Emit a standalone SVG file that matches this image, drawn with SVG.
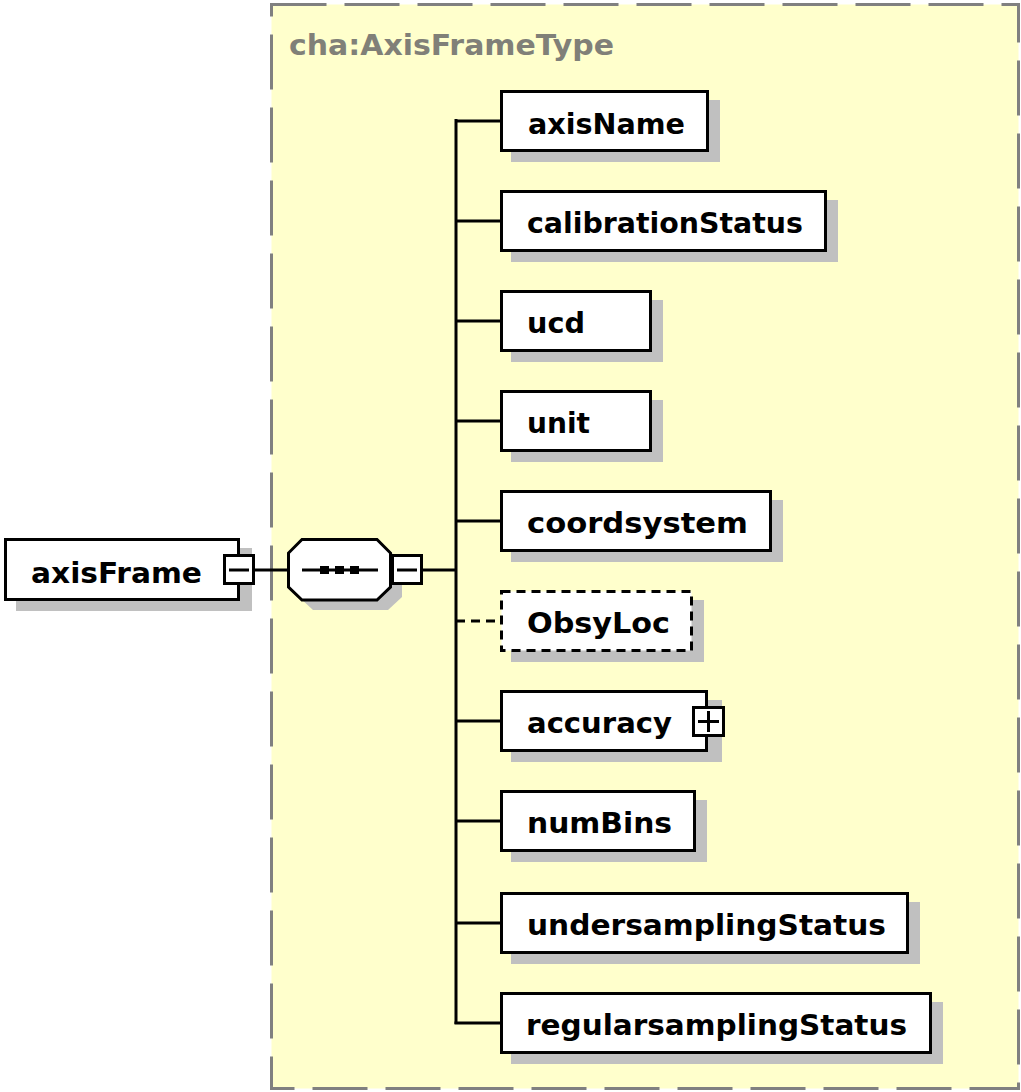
<svg xmlns="http://www.w3.org/2000/svg" width="1021" height="1092" viewBox="0 0 1021 1092">
<style>
.frame{fill:#ffffcc;stroke:#808080;stroke-width:3;stroke-dasharray:55 18}
.box{fill:#ffffff;stroke:#000000;stroke-width:3}
.dbox{fill:#ffffff;stroke:#000000;stroke-width:3;stroke-dasharray:9 6}
.sh{fill:#c0c0c0}
.lbl{font-family:"DejaVu Sans","Liberation Sans",sans-serif;font-weight:bold;font-size:29px;fill:#000000}
.ttl{font-family:"DejaVu Sans","Liberation Sans",sans-serif;font-weight:bold;font-size:29px;fill:#808078}
.ln{stroke:#000000;stroke-width:3;fill:none}
.dln{stroke:#000000;stroke-width:3;fill:none;stroke-dasharray:9 6}
</style>
<rect x="0" y="0" width="1021" height="1092" fill="#ffffff"/>
<g id="type-frame">
<rect class="frame" x="271.5" y="4.5" width="747" height="1084"/>
<text class="ttl" x="289" y="55" textLength="325" lengthAdjust="spacingAndGlyphs">cha:AxisFrameType</text>
</g>
<g id="connectors">
<line class="ln" x1="255" y1="570" x2="288" y2="570"/>
<line class="ln" x1="423" y1="570" x2="456" y2="570"/>
<line class="ln" x1="456" y1="119" x2="456" y2="1024"/>
<line class="ln" x1="456" y1="121" x2="500" y2="121"/>
<line class="ln" x1="456" y1="221" x2="500" y2="221"/>
<line class="ln" x1="456" y1="321" x2="500" y2="321"/>
<line class="ln" x1="456" y1="421" x2="500" y2="421"/>
<line class="ln" x1="456" y1="521" x2="500" y2="521"/>
<line class="dln" x1="456" y1="621" x2="500" y2="621"/>
<line class="ln" x1="456" y1="721" x2="500" y2="721"/>
<line class="ln" x1="456" y1="821" x2="500" y2="821"/>
<line class="ln" x1="456" y1="923" x2="500" y2="923"/>
<line class="ln" x1="454.5" y1="1023" x2="500" y2="1023"/>
</g>
<g id="axisFrame">
<rect class="sh" x="16" y="548" width="236" height="63"/>
<rect class="box" x="5.5" y="539.5" width="233" height="60"/>
<text class="lbl" x="31" y="583" textLength="171" lengthAdjust="spacingAndGlyphs">axisFrame</text>
<rect class="box" x="224.5" y="555.5" width="29" height="28"/>
<line class="ln" x1="229" y1="570" x2="249" y2="570"/>
</g>
<g id="sequence">
<polygon class="sh" points="313,549 388,549 402,563 402,597 388,610 313,610 299,597 299,563"/>
<polygon class="box" points="302,539.5 377,539.5 390.5,553 390.5,587 377,600 302,600 288.5,587 288.5,553"/>
<line class="ln" x1="302" y1="570" x2="378" y2="570"/>
<rect x="320" y="566" width="9" height="8" fill="#000"/>
<rect x="335" y="566" width="9" height="8" fill="#000"/>
<rect x="350" y="566" width="9" height="8" fill="#000"/>
<rect class="box" x="392.5" y="555.5" width="29" height="28"/>
<line class="ln" x1="397" y1="570" x2="417" y2="570"/>
</g>
<g id="axisName">
<rect class="sh" x="511" y="100" width="209" height="62"/>
<rect class="box" x="501.5" y="91.5" width="206" height="59"/>
<text class="lbl" x="528" y="134" textLength="157" lengthAdjust="spacingAndGlyphs">axisName</text>
</g>
<g id="calibrationStatus">
<rect class="sh" x="511" y="200" width="327" height="62"/>
<rect class="box" x="501.5" y="191.5" width="324" height="59"/>
<text class="lbl" x="527" y="233" textLength="276" lengthAdjust="spacingAndGlyphs">calibrationStatus</text>
</g>
<g id="ucd">
<rect class="sh" x="511" y="300" width="152" height="62"/>
<rect class="box" x="501.5" y="291.5" width="149" height="59"/>
<text class="lbl" x="527" y="333" textLength="58" lengthAdjust="spacingAndGlyphs">ucd</text>
</g>
<g id="unit">
<rect class="sh" x="511" y="400" width="152" height="62"/>
<rect class="box" x="501.5" y="391.5" width="149" height="59"/>
<text class="lbl" x="527" y="433" textLength="63" lengthAdjust="spacingAndGlyphs">unit</text>
</g>
<g id="coordsystem">
<rect class="sh" x="511" y="500" width="272" height="62"/>
<rect class="box" x="501.5" y="491.5" width="269" height="59"/>
<text class="lbl" x="527" y="533" textLength="221" lengthAdjust="spacingAndGlyphs">coordsystem</text>
</g>
<g id="ObsyLoc">
<rect class="sh" x="511" y="600" width="193" height="62"/>
<rect class="dbox" x="501.5" y="591.5" width="190" height="59"/>
<text class="lbl" x="527" y="633" textLength="143" lengthAdjust="spacingAndGlyphs">ObsyLoc</text>
</g>
<g id="accuracy">
<rect class="sh" x="511" y="700" width="211" height="62"/>
<rect class="box" x="501.5" y="691.5" width="205" height="59"/>
<text class="lbl" x="527" y="733" textLength="145" lengthAdjust="spacingAndGlyphs">accuracy</text>
<rect class="box" x="693.5" y="707.5" width="30" height="28"/>
<line class="ln" x1="698" y1="721.5" x2="719" y2="721.5"/>
<line class="ln" x1="708.5" y1="711" x2="708.5" y2="732"/>
</g>
<g id="numBins">
<rect class="sh" x="511" y="800" width="196" height="62"/>
<rect class="box" x="501.5" y="791.5" width="193" height="59"/>
<text class="lbl" x="527" y="833" textLength="145" lengthAdjust="spacingAndGlyphs">numBins</text>
</g>
<g id="undersamplingStatus">
<rect class="sh" x="511" y="902" width="409" height="62"/>
<rect class="box" x="501.5" y="893.5" width="406" height="59"/>
<text class="lbl" x="527" y="935" textLength="359" lengthAdjust="spacingAndGlyphs">undersamplingStatus</text>
</g>
<g id="regularsamplingStatus">
<rect class="sh" x="511" y="1002" width="432" height="62"/>
<rect class="box" x="501.5" y="993.5" width="429" height="59"/>
<text class="lbl" x="526" y="1035" textLength="381" lengthAdjust="spacingAndGlyphs">regularsamplingStatus</text>
</g>
</svg>
